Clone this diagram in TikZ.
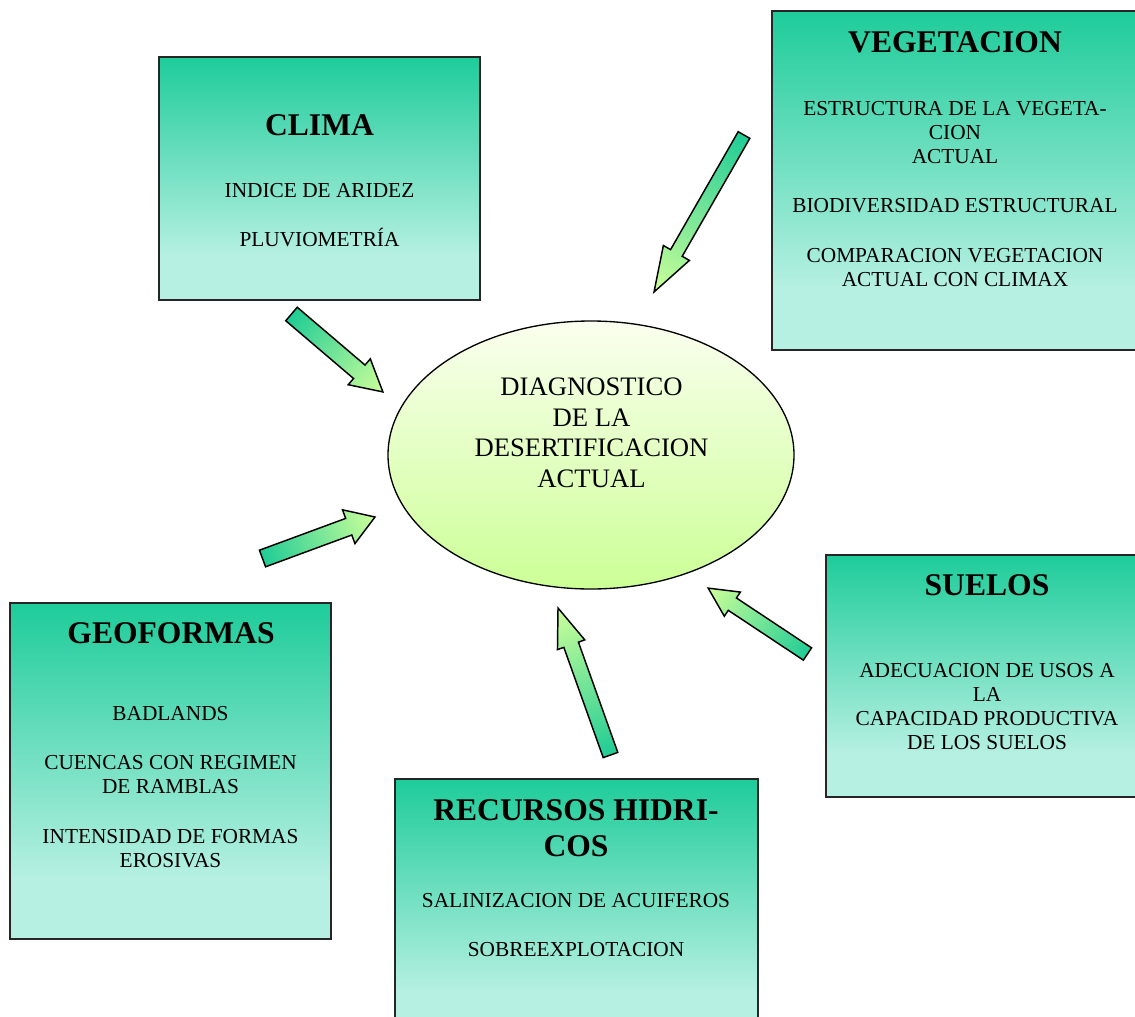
\documentclass[tikz,border=0pt]{standalone}
\usepackage{fontspec}
\setmainfont{Liberation Serif}
\usetikzlibrary{shapes.geometric}

\definecolor{boxteal}{RGB}{30,204,154}
\definecolor{boxlight}{RGB}{182,240,226}
\definecolor{arrowteal}{RGB}{32,204,150}
\definecolor{arrowlight}{RGB}{204,255,153}
\definecolor{ovaltop}{RGB}{250,255,238}
\definecolor{ovalbottom}{RGB}{204,255,150}

% panel fill: teal at the top, fading to pale aqua in the lower part
\pgfdeclareverticalshading{panelshade}{100bp}{color(0bp)=(boxlight); color(34bp)=(boxlight); color(75bp)=(boxteal); color(100bp)=(boxteal)}

\tikzset{
  panel/.style={rectangle, draw=black!85, line width=1.1pt, shading=panelshade, inner sep=0pt},
  paneltitle/.style={font=\fontsize{23.7}{27}\selectfont\bfseries, align=center, inner sep=0pt, anchor=north},
  panelbody/.style={font=\fontsize{16}{18}\selectfont, align=center, inner sep=0pt, anchor=north},
  oval/.style={ellipse, draw=black, line width=1pt, top color=ovaltop, bottom color=ovalbottom, inner sep=0pt},
  ovaltext/.style={font=\fontsize{20}{23}\selectfont, align=center, inner sep=0pt, anchor=north},
  arrowbody/.style={draw=black, line width=1.1pt, line join=miter, left color=arrowteal, right color=arrowlight}
}

% block arrow: name, tail x, tail y, tip x, tip y, shaft width, head width, head length
\newcommand\blockarrow[8]{%
  \coordinate (#1Tail) at (#2,#3);
  \coordinate (#1Tip) at (#4,#5);
  \pgfmathsetmacro\badx{#4-#2}%
  \pgfmathsetmacro\bady{#5-#3}%
  \pgfmathsetmacro\balen{veclen(\badx,\bady)}%
  \pgfmathsetmacro\baang{-atan2(\bady,\badx)}%
  \begin{scope}[transform canvas={shift={(#1Tail)},rotate=\baang}]
    \draw[arrowbody] (0,{-#6/2}) -- ({\balen-#8},{-#6/2}) -- ({\balen-#8},{-#7/2})
      -- (\balen,0) -- ({\balen-#8},{#7/2}) -- ({\balen-#8},{#6/2}) -- (0,{#6/2}) -- cycle;
  \end{scope}}

\begin{document}
\begin{tikzpicture}[x=0.75pt,y=-0.75pt]
  \clip (0,0) rectangle (1135,1017);
  \fill[white] (0,0) rectangle (1135,1017);

  % panels
  \node[panel, minimum width=321*0.75pt, minimum height=243*0.75pt] (clima) at (319.5,178.5) {};
  \node[panel, minimum width=366*0.75pt, minimum height=339*0.75pt] (vegetacion) at (955,180.5) {};
  \node[panel, minimum width=321*0.75pt, minimum height=336*0.75pt] (geoformas) at (170.5,771) {};
  \node[panel, minimum width=363*0.75pt, minimum height=260*0.75pt] (recursos) at (576.5,909) {};
  \node[panel, minimum width=322*0.75pt, minimum height=242*0.75pt] (suelos) at (987,676) {};

  % central ellipse
  \node[oval, minimum width=406*0.75pt, minimum height=268*0.75pt] (diagnostico) at (591,455) {};
  \node[ovaltext] (diagnosticoText) at (591.5,377.6)
    {DIAGNOSTICO\\DE LA\\DESERTIFICACION\\ACTUAL};

  % arrows pointing towards the ellipse
  \blockarrow{climaArrow}{291.5}{314}{383}{392}{17.7}{34}{31}
  \blockarrow{vegetacionArrow}{744}{135}{654}{292}{13.4}{30}{45}
  \blockarrow{geoformasArrow}{262.5}{558.5}{375}{517}{17.7}{36}{28}
  \blockarrow{recursosArrow}{610.5}{755}{558}{608}{15.5}{29}{39}
  \blockarrow{suelosArrow}{807.5}{654}{708}{588}{14.8}{29}{29}

  % panel texts
  \node[paneltitle] (climaTitle) at (319.5,114.5) {CLIMA};
  \node[panelbody] (climaText) at (319.5,183) {INDICE DE ARIDEZ\\[19pt]PLUVIOMETRÍA};

  \node[paneltitle] (vegetacionTitle) at (955,31.5) {VEGETACION};
  \node[panelbody] (vegetacionText) at (955,101)
    {ESTRUCTURA DE LA VEGETA-\\CION\\ACTUAL\\[19pt]BIODIVERSIDAD ESTRUCTURAL\\[19pt]COMPARACION VEGETACION\\ACTUAL CON CLIMAX};

  \node[paneltitle] (geoformasTitle) at (171,622.5) {GEOFORMAS};
  \node[panelbody] (geoformasText) at (170.5,706)
    {BADLANDS\\[19pt]CUENCAS CON REGIMEN\\DE RAMBLAS\\[19pt]INTENSIDAD DE FORMAS\\EROSIVAS};

  \node[paneltitle] (recursosTitle) at (576,799.5) {RECURSOS HIDRI-\\COS};
  \node[panelbody] (recursosText) at (576,893)
    {SALINIZACION DE ACUIFEROS\\[19pt]SOBREEXPLOTACION};

  \node[paneltitle] (suelosTitle) at (987,574.5) {SUELOS};
  \node[panelbody] (suelosText) at (987,663)
    {ADECUACION DE USOS A\\LA\\CAPACIDAD PRODUCTIVA\\DE LOS SUELOS};
\end{tikzpicture}
\end{document}
